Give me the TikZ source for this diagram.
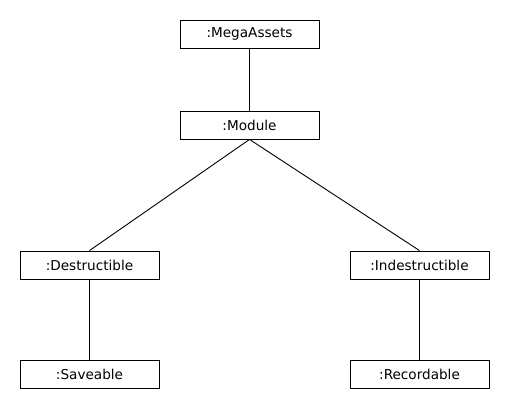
\documentclass[tikz,border=0pt]{standalone}
\usepackage{fontspec}
\setmainfont{DejaVu Sans}

\tikzset{obj/.style = {draw, line width = 0.9pt, minimum width = 139pt, minimum height = 28pt, inner sep = 0pt, font = \fontsize{13.6}{16}\selectfont}}

\begin{document}
\begin{tikzpicture}[x = 1pt, y = -1pt]
	\useasboundingbox (0, 0) rectangle (510, 410);
	
	\node[obj] (mega) at (249.5, 34) {:MegaAssets};
	\node[obj] (module) at (249.5, 125) {:Module};
	\node[obj] (destr) at (89.5, 265) {:Destructible};
	\node[obj] (indestr) at (419.5, 265) {:Indestructible};
	\node[obj] (save) at (89.5, 374) {:Saveable};
	\node[obj] (record) at (419.5, 374) {:Recordable};
	
	\draw[line width = 0.9pt] (mega.south) -- (module.north);
	\draw[line width = 0.9pt] (module.south) -- (destr.north);
	\draw[line width = 0.9pt] (module.south) -- (indestr.north);
	\draw[line width = 0.9pt] (destr.south) -- (save.north);
	\draw[line width = 0.9pt] (indestr.south) -- (record.north);
\end{tikzpicture}
\end{document}
